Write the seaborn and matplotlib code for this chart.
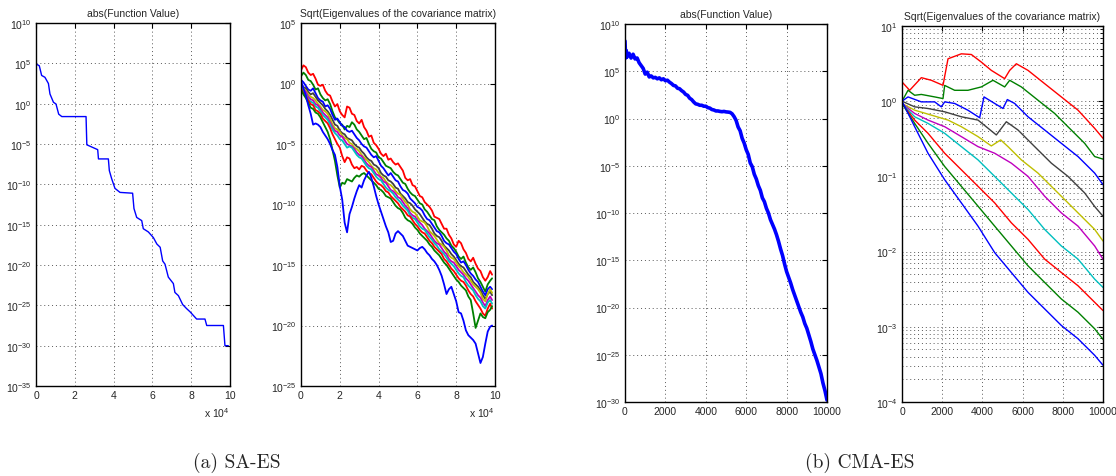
import numpy as np
import pandas as pd
import matplotlib
matplotlib.use("Agg")
import matplotlib.pyplot as plt
import seaborn as sns
from matplotlib.ticker import NullLocator, LogLocator, FixedLocator, NullFormatter

# ---------------- data ----------------
# (a) SA-ES : abs(function value), x in units of 1e4, log10 values
sa_f_x = [0.0, 0.02, 0.17, 0.29, 0.46, 0.64, 0.72, 0.9, 1.03, 1.17, 1.33, 2.58, 2.62, 2.9, 3.18,
          3.22, 3.73, 3.78, 3.9, 4.07, 4.33, 4.98, 5.05, 5.19, 5.45, 5.53, 5.79, 6.05, 6.23, 6.4,
          6.53, 6.65, 6.82, 7.08, 7.16, 7.34, 7.56, 7.76, 7.94, 8.28, 8.71, 8.8, 9.66, 9.74, 9.91]
sa_f_log = [6.2, 4.9, 4.7, 3.5, 3.27, 2.5, 1.2, 0.17, -0.04, -1.3, -1.6, -1.6, -5.1, -5.4, -5.7,
            -6.85, -6.85, -8.3, -9.3, -10.5, -11.0, -11.1, -13.0, -14.1, -14.5, -15.5, -15.9, -16.6, -17.4, -17.8,
            -19.5, -19.9, -21.5, -22.3, -23.4, -23.8, -24.9, -25.4, -25.8, -26.7, -26.7, -27.5, -27.5, -30.0, -30.0]

# (a) SA-ES : sqrt(eigenvalues), x in units of 1e4, log10 values
sa_e_x = [0, .125, .25, .375, .5, .625, .75, .875, 1, 1.125,
          1.25, 1.375, 1.5, 1.625, 1.75, 1.875, 2, 2.125, 2.25, 2.375,
          2.5, 2.625, 2.75, 2.875, 3, 3.125, 3.25, 3.375, 3.5, 3.625,
          3.75, 3.875, 4, 4.125, 4.25, 4.375, 4.5, 4.625, 4.75, 4.875,
          5, 5.125, 5.25, 5.375, 5.5, 5.625, 5.75, 5.875, 6, 6.125,
          6.25, 6.375, 6.5, 6.625, 6.75, 6.875, 7, 7.125, 7.25, 7.375,
          7.5, 7.625, 7.75, 7.875, 8, 8.125, 8.25, 8.375, 8.5, 8.625,
          8.75, 8.875, 9, 9.125, 9.25, 9.375, 9.5, 9.625, 9.75, 9.85]
sa_e1 = [1.1, 1.5, 1.35, 0.9, 0.7, 0.8, 0.4, -0.1, -0.2, -0.1,
         -0.6, -0.9, -1.0, -1.5, -1.9, -1.7, -2.3, -2.6, -2.8, -1.9,
         -2.0, -2.5, -2.6, -3.1, -3.3, -3.0, -3.6, -3.9, -4.4, -4.3,
         -4.9, -5.1, -5.4, -5.8, -6.0, -5.8, -6.3, -6.2, -6.5, -6.7,
         -6.6, -6.9, -7.2, -7.8, -8.0, -7.9, -8.4, -8.5, -8.9, -9.3,
         -9.4, -9.8, -10.0, -10.2, -10.5, -11.0, -11.1, -11.2, -11.6, -12.0,
         -12.0, -12.5, -12.8, -13.3, -13.5, -13.0, -13.2, -13.7, -14.0, -14.5,
         -14.7, -14.4, -14.9, -15.3, -15.5, -16.0, -16.3, -16.0, -15.5, -15.8]
sa_e2 = [0.6, 0.9, 0.7, 0.3, 0.2, -0.1, -0.5, -0.4, -0.9, -1.2,
         -1.4, -1.3, -1.7, -2.3, -2.8, -3.0, -3.3, -3.4, -3.8, -3.5,
         -3.6, -3.2, -3.4, -3.8, -4.0, -4.3, -4.6, -4.5, -5.0, -5.4,
         -5.6, -5.7, -6.1, -6.2, -6.5, -6.8, -6.9, -7.0, -7.3, -7.5,
         -7.6, -7.9, -8.2, -8.3, -8.7, -9.0, -9.2, -9.3, -9.6, -9.9,
         -10.0, -10.4, -10.6, -10.9, -11.2, -11.3, -11.8, -12.1, -12.3, -12.5,
         -12.8, -13.0, -13.4, -13.6, -13.9, -14.3, -14.5, -14.3, -14.8, -15.2,
         -15.4, -15.2, -15.6, -16.1, -16.4, -16.8, -17.2, -16.6, -16.3, -16.1]
sa_e3 = [0.3, 0.1, -0.2, -0.5, -0.6, -0.4, -0.8, -1.2, -1.4, -1.5,
         -1.9, -1.8, -2.1, -2.6, -3.0, -2.9, -3.2, -3.5, -3.6, -3.9,
         -4.0, -3.9, -4.2, -4.5, -4.7, -5.0, -5.2, -5.3, -5.6, -5.9,
         -6.1, -6.0, -6.4, -6.8, -7.0, -7.3, -7.6, -7.4, -7.7, -8.0,
         -8.1, -8.5, -8.8, -8.9, -9.1, -9.5, -9.7, -9.9, -10.2, -10.3,
         -10.5, -10.9, -11.2, -11.3, -11.6, -11.9, -12.2, -12.3, -12.6, -13.0,
         -13.2, -13.3, -13.6, -13.9, -14.1, -14.5, -14.8, -14.7, -15.0, -15.4,
         -15.7, -15.9, -16.2, -16.4, -16.8, -17.2, -17.5, -17.0, -16.8, -17.0]
sa_e4 = [0.0, -0.3, -0.4, -0.7, -0.9, -0.8, -1.1, -1.4, -1.6, -1.8,
         -2.1, -2.3, -2.6, -3.0, -3.4, -3.5, -3.9, -4.1, -4.2, -4.5,
         -4.6, -4.7, -5.0, -5.2, -5.3, -5.6, -5.8, -6.1, -6.3, -6.4,
         -6.7, -6.8, -7.0, -7.4, -7.6, -7.7, -8.0, -8.1, -8.3, -8.6,
         -8.7, -9.1, -9.3, -9.5, -9.8, -9.9, -10.1, -10.4, -10.6, -10.8,
         -11.1, -11.4, -11.6, -11.7, -12.0, -12.4, -12.6, -12.7, -13.0, -13.4,
         -13.6, -13.8, -14.1, -14.3, -14.6, -14.9, -15.1, -15.2, -15.5, -15.8,
         -16.0, -16.4, -16.6, -16.8, -17.1, -17.5, -17.8, -17.4, -17.2, -17.5]
sa_e5 = [-0.1, -0.4, -0.6, -0.9, -1.1, -1.2, -1.4, -1.7, -1.9, -2.2,
         -2.3, -2.5, -2.9, -3.4, -3.7, -3.8, -4.0, -4.3, -4.5, -4.6,
         -4.9, -5.0, -5.3, -5.4, -5.6, -5.9, -6.1, -6.3, -6.5, -6.8,
         -7.0, -7.1, -7.4, -7.7, -7.8, -8.1, -8.3, -8.4, -8.6, -8.9,
         -9.1, -9.2, -9.5, -9.8, -10.0, -10.4, -10.6, -10.7, -11.0, -11.3,
         -11.4, -11.5, -11.8, -12.2, -12.4, -12.6, -12.9, -13.2, -13.3, -13.5,
         -13.8, -14.2, -14.4, -14.5, -14.8, -15.1, -15.3, -15.6, -15.8, -16.0,
         -16.3, -16.6, -16.8, -17.0, -17.3, -17.8, -18.0, -17.4, -17.0, -17.3]
sa_e6 = [-0.2, -0.5, -0.7, -1.1, -1.3, -1.4, -1.7, -1.8, -2.1, -2.4,
         -2.6, -2.8, -3.2, -3.6, -3.9, -4.0, -4.3, -4.4, -4.7, -5.0,
         -5.1, -5.2, -5.4, -5.7, -5.9, -6.0, -6.3, -6.6, -6.8, -6.9,
         -7.2, -7.5, -7.6, -7.8, -8.1, -8.2, -8.5, -8.8, -8.9, -9.1,
         -9.4, -9.5, -9.8, -10.1, -10.3, -10.7, -10.9, -11.0, -11.3, -11.5,
         -11.7, -12.0, -12.2, -12.4, -12.7, -13.0, -13.2, -13.3, -13.6, -13.9,
         -14.1, -14.5, -14.7, -14.8, -15.1, -15.4, -15.6, -15.8, -16.1, -16.3,
         -16.6, -16.9, -17.2, -17.5, -17.7, -18.1, -18.4, -17.9, -17.6, -17.9]
sa_e7 = [-0.3, -0.7, -0.9, -1.3, -1.5, -1.6, -1.9, -2.0, -2.3, -2.6,
         -2.8, -3.0, -3.4, -3.8, -4.1, -4.3, -4.6, -4.7, -5.0, -5.3,
         -5.2, -5.3, -5.6, -5.9, -6.1, -6.2, -6.5, -6.8, -7.0, -7.1,
         -7.4, -7.7, -7.9, -8.0, -8.3, -8.6, -8.8, -8.9, -9.1, -9.4,
         -9.6, -9.8, -10.1, -10.3, -10.5, -10.9, -11.1, -11.2, -11.5, -11.8,
         -12.0, -12.1, -12.4, -12.7, -12.9, -13.2, -13.4, -13.7, -13.9, -14.1,
         -14.4, -14.7, -14.9, -15.1, -15.4, -15.7, -15.9, -16.0, -16.4, -16.7,
         -16.9, -17.1, -17.5, -17.8, -18.0, -18.4, -18.6, -18.1, -17.9, -18.2]
sa_e8 = [-0.4, -0.8, -1.0, -1.4, -1.7, -1.8, -2.2, -2.3, -2.5, -2.9,
         -3.1, -3.3, -3.7, -4.2, -4.6, -5.0, -5.3, -6.0, -6.5, -6.1,
         -6.2, -6.7, -7.0, -6.9, -7.1, -6.8, -6.9, -7.2, -7.4, -7.5,
         -7.8, -8.1, -8.3, -8.4, -8.6, -8.9, -9.0, -9.3, -9.5, -9.7,
         -9.9, -10.2, -10.4, -10.6, -10.9, -11.0, -11.3, -11.6, -11.8, -12.1,
         -12.3, -12.4, -12.7, -13.0, -13.2, -13.5, -13.7, -13.9, -14.1, -14.5,
         -14.7, -15.0, -15.3, -15.5, -15.8, -16.1, -16.3, -16.4, -16.7, -17.1,
         -17.4, -17.6, -18.0, -18.3, -18.6, -19.0, -19.2, -18.6, -18.2, -18.6]
sa_e9 = [-0.5, -0.9, -1.2, -1.6, -2.0, -2.1, -2.4, -2.5, -2.8, -3.2,
         -3.6, -4.0, -4.6, -5.5, -6.4, -7.6, -8.6, -8.2, -8.3, -7.9,
         -8.0, -8.1, -7.8, -7.6, -7.7, -7.5, -7.4, -7.6, -7.8, -8.0,
         -8.2, -8.4, -8.7, -8.8, -9.0, -9.3, -9.4, -9.5, -9.8, -10.1,
         -10.3, -10.4, -10.7, -11.1, -11.3, -11.4, -11.6, -11.9, -12.1, -12.4,
         -12.6, -12.8, -13.0, -13.3, -13.5, -13.8, -14.0, -14.2, -14.5, -14.8,
         -15.0, -15.3, -15.6, -15.9, -16.2, -16.4, -16.7, -16.9, -17.1, -17.6,
         -17.9, -19.0, -20.2, -19.6, -19.0, -19.3, -19.4, -18.9, -18.7, -18.4]
sa_e10 = [0.2, -0.4, -1.0, -1.8, -2.5, -3.4, -3.3, -3.4, -3.6, -4.0,
          -4.3, -4.6, -5.0, -5.5, -5.9, -6.9, -8.5, -9.6, -11.5, -12.3,
          -10.8, -10.2, -9.5, -8.9, -8.4, -8.6, -8.0, -7.6, -7.3, -7.8,
          -8.5, -9.3, -10.0, -10.6, -11.2, -11.8, -12.3, -13.1, -13.0, -12.4,
          -12.2, -12.4, -12.6, -13.0, -13.4, -13.5, -13.6, -13.7, -13.8, -13.6,
          -13.5, -13.7, -14.0, -14.2, -14.5, -14.7, -15.0, -15.4, -15.9, -16.6,
          -17.4, -17.0, -16.8, -17.4, -18.0, -18.9, -19.0, -19.6, -20.4, -20.8,
          -21.0, -21.2, -21.5, -22.3, -23.1, -22.6, -21.5, -20.5, -20.1, -20.0]

# (b) CMA-ES : abs(function value), log10 values
cma_f_x = [0, 30, 60, 100, 200, 300, 400, 500, 600, 700, 800, 900, 1000, 1100, 1200, 1300, 1400,
           1500, 1600, 1700, 1800, 1900, 2000, 2100, 2200, 2300, 2400, 2500, 2600, 2700, 2800,
           2900, 3000, 3100, 3200, 3300, 3400, 3500, 3600, 3700, 3800, 3900, 4000, 4100, 4200,
           4300, 4400, 4500, 4600, 4700, 4800, 4900, 5000, 5100, 5200, 5300, 5400, 5500, 5600,
           5700, 5800, 5900, 6000, 6100, 6200, 6300, 6400, 6500, 6600, 6700, 6800, 6900, 7000,
           7100, 7200, 7300, 7400, 7500, 7600, 7700, 7800, 7900, 8000, 8100, 8200, 8300, 8400,
           8500, 8600, 8700, 8800, 8900, 9000, 9100, 9200, 9300, 9400, 9500, 9600, 9700, 9800,
           9900, 10000]
cma_f_log = [8.2, 6.4, 7.2, 6.5, 6.9, 6.4, 6.8, 6.3, 6.4, 5.9, 5.6, 5.3, 4.7, 4.9, 4.4, 4.5, 4.3,
             4.35, 4.2, 4.3, 4.1, 4.2, 4.0, 4.05, 3.85, 3.7, 3.5, 3.45, 3.2, 3.15, 2.95,
             2.8, 2.55, 2.45, 2.15, 2.0, 1.75, 1.55, 1.5, 1.4, 1.4, 1.3, 1.3, 1.15, 1.1,
             0.95, 0.9, 0.8, 0.8, 0.75, 0.72, 0.75, 0.7, 0.68, 0.65, 0.5, 0.2, -0.2, -0.9,
             -1.3, -2.1, -2.6, -3.3, -3.8, -4.7, -5.1, -5.9, -6.4, -7.1, -7.6, -8.4, -8.8, -9.5,
             -10.0, -10.7, -11.2, -11.7, -12.3, -13.0, -13.8, -14.5, -15.4, -16.2, -16.8, -17.4, -18.1, -18.7,
             -19.3, -19.9, -20.5, -21.0, -21.7, -22.2, -22.9, -23.6, -24.4, -25.0, -25.6, -26.3, -27.0, -28.0,
             -28.8, -29.8]

# (b) CMA-ES : sqrt(eigenvalues), log10 values
cma_e1_x = [0, 381, 962, 1459, 2040, 2289, 2952, 3449, 3947, 4444, 5108, 5357, 5688, 6269, 7098, 7927, 8756, 9585, 10000]
cma_e1 = [0.256, 0.145, 0.313, 0.278, 0.211, 0.564, 0.630, 0.621, 0.52, 0.41, 0.30, 0.41, 0.498, 0.41, 0.233, 0.057, -0.119, -0.361, -0.493]
cma_e2_x = [0, 300, 630, 962, 1625, 2040, 2123, 2620, 3281, 3947, 4527, 5108, 5357, 5937, 6766, 7595, 8258, 9087, 9585, 10000]
cma_e2 = [0.0, 0.145, 0.079, 0.09, 0.057, 0.035, 0.21, 0.145, 0.145, 0.19, 0.278, 0.19, 0.278, 0.19, 0.013, -0.163, -0.34, -0.56, -0.736, -0.77]
cma_e3_x = [0, 300, 962, 1625, 1956, 2123, 2620, 3281, 3864, 4080, 4610, 5025, 5240, 5605, 6269, 7098, 7927, 8756, 9585, 10000]
cma_e3 = [0.0, 0.057, -0.009, -0.009, -0.075, -0.009, -0.03, -0.12, -0.22, 0.057, -0.03, -0.097, 0.022, -0.03, -0.207, -0.383, -0.56, -0.736, -0.956, -1.11]
cma_e4_x = [0, 630, 1294, 2123, 2952, 3781, 4693, 5191, 5771, 6600, 7430, 8258, 9087, 9585, 10000]
cma_e4 = [0.0, -0.075, -0.097, -0.141, -0.207, -0.251, -0.449, -0.273, -0.383, -0.604, -0.824, -1.0, -1.22, -1.40, -1.53]
cma_e5_x = [0, 630, 1459, 2289, 2952, 3781, 4444, 4910, 5274, 5937, 6766, 7595, 8424, 9087, 9585, 10000]
cma_e5 = [-0.03, -0.119, -0.185, -0.251, -0.339, -0.471, -0.595, -0.515, -0.604, -0.78, -0.956, -1.176, -1.396, -1.573, -1.705, -1.859]
cma_grid_x = [0, 630, 1294, 2123, 2952, 3781, 4610, 5439, 6269, 7098, 7927, 8756, 9585, 10000]
cma_e6 = [-0.03, -0.163, -0.251, -0.339, -0.471, -0.604, -0.692, -0.824, -1.0, -1.264, -1.485, -1.661, -1.925, -2.101]
cma_e7 = [-0.03, -0.207, -0.295, -0.427, -0.604, -0.78, -1.0, -1.22, -1.44, -1.705, -1.925, -2.10, -2.366, -2.476]
cma_e8 = [-0.03, -0.251, -0.427, -0.692, -0.912, -1.132, -1.352, -1.617, -1.837, -2.10, -2.278, -2.454, -2.674, -2.784]
cma_e9 = [-0.03, -0.295, -0.559, -0.868, -1.132, -1.396, -1.661, -1.925, -2.189, -2.41, -2.63, -2.806, -3.026, -3.167]
cma_e10 = [0.0, -0.339, -0.692, -1.044, -1.352, -1.661, -2.013, -2.278, -2.542, -2.762, -2.982, -3.159, -3.379, -3.511]

eig_colors = ["#ff0000", "#008000", "#0000ff", "#404040", "#bfbf00",
              "#bf00bf", "#00bfbf", "#ff0000", "#008000", "#0000ff"]

# ---------------- style ----------------
sns.set_style("white")
plt.rcParams["font.family"] = ["Liberation Sans", "DejaVu Sans"]
plt.rcParams["mathtext.fontset"] = "custom"
plt.rcParams["mathtext.rm"] = "Liberation Sans"
plt.rcParams["mathtext.it"] = "Liberation Sans:italic"
plt.rcParams["mathtext.bf"] = "Liberation Sans:bold"

W, H = 1116, 477
fig = plt.figure(figsize=(W / 100, H / 100), dpi=100)


def add_ax(left, top, right, bottom):
    return fig.add_axes([left / W, 1 - bottom / H, (right - left) / W, (bottom - top) / H])


ax1 = add_ax(36, 24, 230, 387)
ax2 = add_ax(301, 24, 495, 387)
ax3 = add_ax(625, 25, 827, 403)
ax4 = add_ax(902, 27, 1103, 403)

grid_kw = dict(color="0.35", linestyle=(0, (1, 3)), linewidth=0.7)


def style(ax, title, xlim, xticks, ylim, yticks, minor=False):
    ax.set_yscale("log")
    ax.set_xlim(*xlim)
    ax.set_ylim(*ylim)
    ax.set_xticks(xticks)
    ax.yaxis.set_major_locator(FixedLocator(yticks))
    if minor:
        ax.yaxis.set_minor_locator(LogLocator(base=10, subs=np.arange(2, 10)))
        ax.yaxis.set_minor_formatter(NullFormatter())
        ax.grid(True, which="minor", axis="y", **grid_kw)
    else:
        ax.yaxis.set_minor_locator(NullLocator())
    ax.xaxis.set_minor_locator(NullLocator())
    ax.grid(True, which="major", **grid_kw)
    ax.set_title(title, fontsize=7.5, pad=5)
    ax.tick_params(axis="both", which="both", direction="in", top=True, right=True,
                   labelsize=7.5, pad=3, color="black")
    ax.tick_params(which="major", length=3.5, width=0.8)
    ax.tick_params(which="minor", length=2, width=0.6)
    for s in ax.spines.values():
        s.set_color("black")
        s.set_linewidth(1.0)
    ax.set_xlabel("")
    ax.set_ylabel("")


def long_form(series):
    rows = []
    for i, (xs, s) in enumerate(series):
        for xv, yv in zip(xs, s):
            rows.append((xv, 10.0 ** yv, f"e{i}"))
    return pd.DataFrame(rows, columns=["x", "y", "k"])


# panel 1
d1 = pd.DataFrame({"x": sa_f_x, "y": np.power(10.0, sa_f_log)})
sns.lineplot(data=d1, x="x", y="y", ax=ax1, color="#0000ff", linewidth=1.0, estimator=None, sort=False)
style(ax1, "abs(Function Value)", (0, 10), [0, 2, 4, 6, 8, 10],
      (1e-35, 1e10), [10.0 ** k for k in range(-35, 11, 5)])
ax1.text(1.0, -0.072, r"x 10$^{4}$", transform=ax1.transAxes, ha="right", va="center", fontsize=7.5)

# panel 2
sa_series = [sa_e1, sa_e2, sa_e3, sa_e4, sa_e5, sa_e6, sa_e7, sa_e8, sa_e9, sa_e10]
d2 = long_form([(sa_e_x, s) for s in sa_series])
sns.lineplot(data=d2, x="x", y="y", hue="k", palette=eig_colors, ax=ax2, linewidth=1.3,
             estimator=None, sort=False, legend=False)
style(ax2, "Sqrt(Eigenvalues of the covariance matrix)", (0, 10), [0, 2, 4, 6, 8, 10],
      (1e-25, 1e5), [10.0 ** k for k in range(-25, 6, 5)])
ax2.text(1.0, -0.072, r"x 10$^{4}$", transform=ax2.transAxes, ha="right", va="center", fontsize=7.5)

# panel 3
d3 = pd.DataFrame({"x": cma_f_x, "y": np.power(10.0, cma_f_log)})
sns.lineplot(data=d3, x="x", y="y", ax=ax3, color="#0000ff", linewidth=2.6, estimator=None, sort=False)
style(ax3, "abs(Function Value)", (0, 10000), [0, 2000, 4000, 6000, 8000, 10000],
      (1e-30, 1e10), [10.0 ** k for k in range(-30, 11, 5)])

# panel 4
cma_series = [(cma_e1_x, cma_e1), (cma_e2_x, cma_e2), (cma_e3_x, cma_e3), (cma_e4_x, cma_e4),
              (cma_e5_x, cma_e5), (cma_grid_x, cma_e6), (cma_grid_x, cma_e7), (cma_grid_x, cma_e8),
              (cma_grid_x, cma_e9), (cma_grid_x, cma_e10)]
d4 = long_form(cma_series)
sns.lineplot(data=d4, x="x", y="y", hue="k", palette=eig_colors, ax=ax4, linewidth=1.0,
             estimator=None, sort=False, legend=False)
style(ax4, "Sqrt(Eigenvalues of the covariance matrix)", (0, 10000), [0, 2000, 4000, 6000, 8000, 10000],
      (1e-4, 1e1), [10.0 ** k for k in range(-4, 2)], minor=True)

# captions
fig.text(237 / W, 1 - 463 / H, "(a) SA-ES", ha="center", va="center", fontsize=14, family="cmr10")
fig.text(860 / W, 1 - 463 / H, "(b) CMA-ES", ha="center", va="center", fontsize=14, family="cmr10")

fig.savefig("out.png", dpi=100)
